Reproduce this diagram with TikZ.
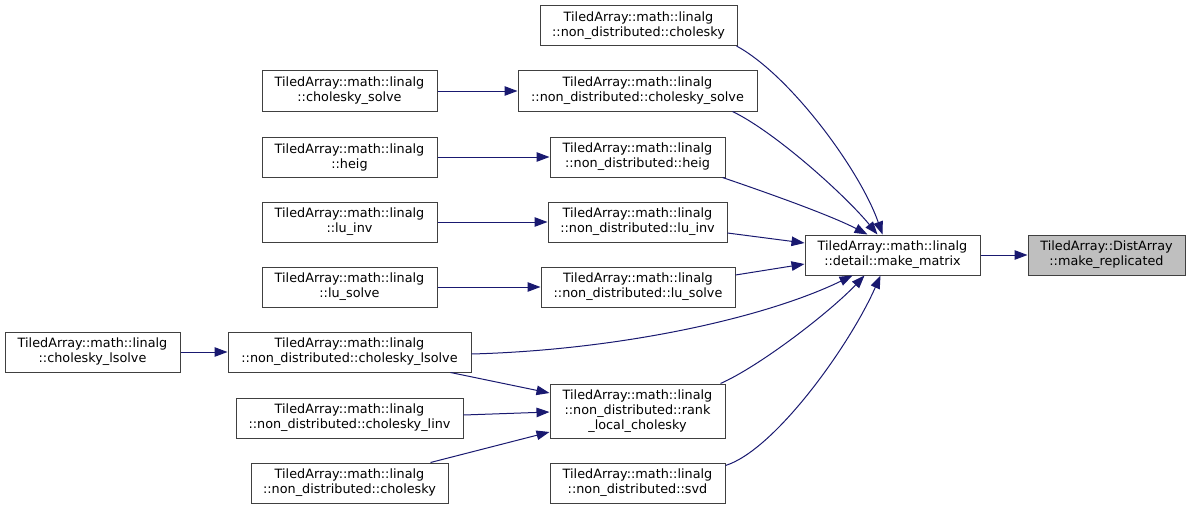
\documentclass[tikz,border=0pt]{standalone}
\usepackage{fontspec}
\setmainfont{DejaVu Sans}
\usetikzlibrary{arrows.meta,calc}
\definecolor{edgeblue}{HTML}{191970}
\definecolor{boxline}{HTML}{404040}
\definecolor{hilite}{HTML}{BFBFBF}
\begin{document}
\begin{tikzpicture}[x=1pt,y=-1pt,
  fn/.style={draw=boxline, line width=1pt, fill=white, rectangle, inner sep=0pt,
    align=center, minimum height=40pt, font=\fontsize{12.8}{15}\selectfont},
  edge/.style={draw=edgeblue, line width=1pt, -{Triangle[length=13pt,width=9.5pt]}, edgeblue}
]
\useasboundingbox (0,0) rectangle (1191,511);
% left column
\node[fn, minimum width=175pt] (clsolve) at (92.5,352) {TiledArray::math::linalg\\::cholesky\_lsolve};
\node[fn, minimum width=175pt] (csolve) at (349.5,91) {TiledArray::math::linalg\\::cholesky\_solve};
\node[fn, minimum width=175pt] (heig) at (349.5,157) {TiledArray::math::linalg\\::heig};
\node[fn, minimum width=175pt] (luinv) at (349.5,222) {TiledArray::math::linalg\\::lu\_inv};
\node[fn, minimum width=175pt] (lusolve) at (349.5,287) {TiledArray::math::linalg\\::lu\_solve};
\node[fn, minimum width=243pt] (ndclsolve) at (349.5,352) {TiledArray::math::linalg\\::non\_distributed::cholesky\_lsolve};
\node[fn, minimum width=227pt] (ndclinv) at (349.5,418) {TiledArray::math::linalg\\::non\_distributed::cholesky\_linv};
\node[fn, minimum width=197pt] (ndchol2) at (349.5,483) {TiledArray::math::linalg\\::non\_distributed::cholesky};
% middle column
\node[fn, minimum width=197pt] (ndchol) at (638.5,25.5) {TiledArray::math::linalg\\::non\_distributed::cholesky};
\node[fn, minimum width=239pt] (ndcsolve) at (637.5,91) {TiledArray::math::linalg\\::non\_distributed::cholesky\_solve};
\node[fn, minimum width=175pt] (ndheig) at (637.5,157) {TiledArray::math::linalg\\::non\_distributed::heig};
\node[fn, minimum width=179pt] (ndluinv) at (637.5,222) {TiledArray::math::linalg\\::non\_distributed::lu\_inv};
\node[fn, minimum width=194pt] (ndlusolve) at (638,287) {TiledArray::math::linalg\\::non\_distributed::lu\_solve};
\node[fn, minimum width=175pt, minimum height=54pt] (ndrank) at (637.5,411) {TiledArray::math::linalg\\::non\_distributed::rank\\\_local\_cholesky};
\node[fn, minimum width=175pt] (ndsvd) at (637.5,483) {TiledArray::math::linalg\\::non\_distributed::svd};
% right
\node[fn, minimum width=175pt] (mm) at (892.5,255) {TiledArray::math::linalg\\::detail::make\_matrix};
\node[fn, minimum width=157pt, fill=hilite] (mr) at (1106.5,255) {TiledArray::DistArray\\::make\_replicated};
% edges left -> middle
\draw[edge] (csolve.east) -- (ndcsolve.west);
\draw[edge] (heig.east) -- (ndheig.west);
\draw[edge] (luinv.east) -- (ndluinv.west);
\draw[edge] (lusolve.east) -- (ndlusolve.west);
\draw[edge] (clsolve.east) -- (ndclsolve.west);
\draw[edge] ($(ndclsolve.south east)+(-21,0)$) -- ($(ndrank.west)+(0,-18)$);
\draw[edge] ($(ndclinv.east)+(0,-3)$) -- ($(ndrank.west)+(0,1)$);
\draw[edge] ($(ndchol2.north east)+(-18,0)$) -- ($(ndrank.west)+(0,21)$);
% edges middle -> make_matrix
\draw[edge] ($(ndchol.south east)+(-1,0)$) .. controls (790,75) and (860,170) .. ($(mm.north)+(-10,0)$);
\draw[edge] ($(ndcsolve.south east)+(-25,0)$) .. controls (775,132) and (845,195) .. ($(mm.north)+(-15,0)$);
\draw[edge] ($(ndheig.south east)+(-3,0)$) .. controls (765,192) and (830,215) .. ($(mm.north)+(-25,0)$);
\draw[edge] ($(ndluinv.east)+(0,11)$) -- ($(mm.west)+(0,-12)$);
\draw[edge] ($(ndlusolve.east)+(0,-12)$) -- ($(mm.west)+(0,9)$);
\draw[edge] ($(ndclsolve.east)+(0,2)$) .. controls (620,350) and (765,318) .. ($(mm.south)+(-40,0)$);
\draw[edge] ($(ndrank.north east)+(-5,0)$) .. controls (760,366) and (830,312) .. ($(mm.south)+(-28,0)$);
\draw[edge] ($(ndsvd.north east)+(0,3)$) .. controls (775,450) and (850,345) .. ($(mm.south)+(-12,0)$);
% make_matrix -> make_replicated
\draw[edge] (mm.east) -- (mr.west);
\end{tikzpicture}
\end{document}
